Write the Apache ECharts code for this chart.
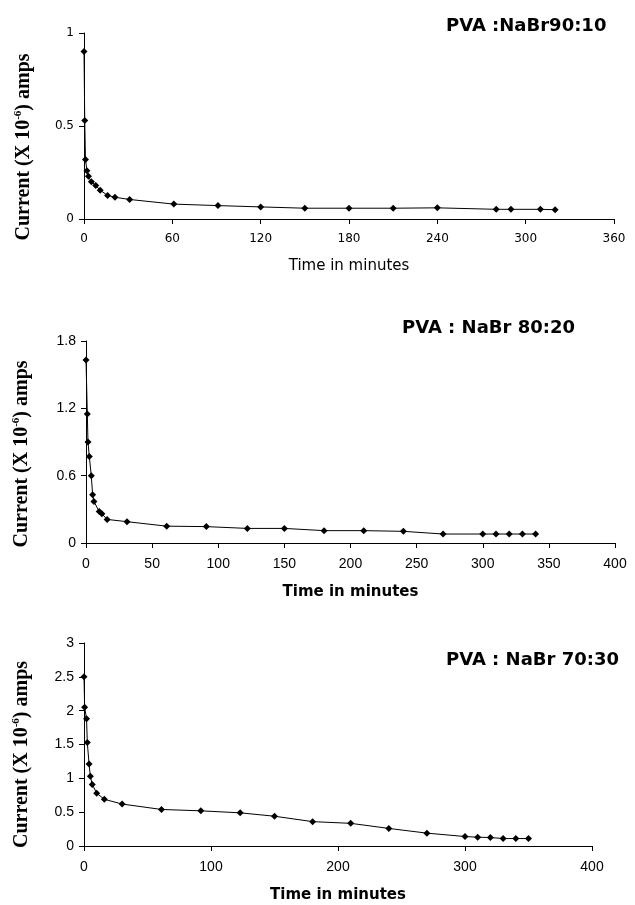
<!DOCTYPE html>
<html>
<head>
<meta charset="utf-8">
<script src="https://cdn.jsdelivr.net/npm/echarts@6/dist/echarts.min.js"></script>
<style>
  html, body { margin: 0; padding: 0; background: #fff; }
  #chart { width: 635px; height: 905px; }
</style>
</head>
<body>
<div id="chart"></div>
<script>
// PVA : NaBr 90:10
const time1 = [0, 0.5, 1, 2, 3, 5, 8, 11, 16, 21, 31, 61, 91, 120, 150, 180, 210, 240, 280, 290, 310, 320]
const current1 = [0.90, 0.53, 0.32, 0.26, 0.23, 0.20, 0.18, 0.155, 0.127, 0.117, 0.105, 0.08, 0.072, 0.065, 0.058, 0.058, 0.058, 0.06, 0.052, 0.052, 0.052, 0.05]

// PVA : NaBr 80:20
const time2 = [0, 1, 1.5, 2.5, 4, 5, 6, 10, 12, 16, 31, 61, 91, 122, 150, 180, 210, 240, 270, 300, 310, 320, 330, 340]
const current2 = [1.63, 1.15, 0.90, 0.77, 0.60, 0.43, 0.37, 0.28, 0.26, 0.21, 0.19, 0.15, 0.146, 0.13, 0.13, 0.11, 0.11, 0.104, 0.08, 0.08, 0.08, 0.08, 0.08, 0.08]

// PVA : NaBr 70:30
const time3 = [0, 0.5, 2, 2.6, 4, 5, 6.5, 10, 16, 30, 61, 92, 123, 150, 180, 210, 240, 270, 300, 310, 320, 330, 340, 350]
const current3 = [2.50, 2.05, 1.88, 1.53, 1.21, 1.03, 0.91, 0.78, 0.69, 0.62, 0.54, 0.52, 0.49, 0.44, 0.36, 0.335, 0.26, 0.19, 0.14, 0.13, 0.125, 0.11, 0.11, 0.11]

const titles = ['PVA :NaBr90:10', 'PVA : NaBr 80:20', 'PVA : NaBr 70:30']
const yName = 'Current (X 10{sup|-6}) amps'
const xName = 'Time in minutes'

const chart = echarts.init(document.getElementById('chart'))

const toPairs = (xs, ys) => xs.map((x, i) => [x, ys[i]])

const axisLine = { show: true, onZero: false, lineStyle: { color: '#000', width: 1 } }
const axisTick = { show: true, length: 5, lineStyle: { color: '#000' } }

const yNameStyle = (shift) => ({
  fontFamily: 'Liberation Serif',
  fontSize: 20,
  fontWeight: 'bold',
  color: '#000',
  padding: [0, shift, 0, 0],
  rich: {
    sup: {
      fontFamily: 'Liberation Serif',
      fontSize: 11,
      fontWeight: 'bold',
      color: '#000',
      verticalAlign: 'top',
      padding: [0, 0, 10, 0]
    }
  }
})

const makeX = (idx, max, interval, labelFont, labelSize, nameBold, nameSize) => ({
  type: 'value',
  gridIndex: idx,
  min: 0,
  max: max,
  interval: interval,
  axisLine,
  axisTick,
  splitLine: { show: false },
  axisLabel: { color: '#000', fontFamily: labelFont, fontSize: labelSize, margin: 14 },
  name: xName,
  nameLocation: 'middle',
  nameGap: idx === 0 ? 40 : 42,
  nameTextStyle: {
    color: '#000',
    fontFamily: 'DejaVu Sans',
    fontWeight: nameBold ? 'bold' : 'normal',
    fontSize: nameSize
  }
})

const makeY = (idx, max, interval, labelFont, labelSize, gap, shift) => ({
  type: 'value',
  gridIndex: idx,
  min: 0,
  max: max,
  interval: interval,
  axisLine,
  axisTick,
  splitLine: { show: false },
  axisLabel: { color: '#000', fontFamily: labelFont, fontSize: labelSize, margin: 10 },
  name: yName,
  nameLocation: 'middle',
  nameGap: gap,
  nameTextStyle: yNameStyle(shift)
})

const makeSeries = (idx, data) => ({
  type: 'line',
  xAxisIndex: idx,
  yAxisIndex: idx,
  data: data,
  symbol: 'diamond',
  symbolSize: 7,
  showSymbol: true,
  lineStyle: { color: '#000', width: 1 },
  itemStyle: { color: '#000' },
  animation: false
})

const titleStyle = { fontFamily: 'DejaVu Sans', fontWeight: 'bold', fontSize: 18, color: '#000' }

const option = {
  backgroundColor: '#fff',
  animation: false,
  title: [
    { text: titles[0], left: 441, top: 12, textStyle: titleStyle },
    { text: titles[1], left: 397, top: 314, textStyle: titleStyle },
    { text: titles[2], left: 441, top: 646, textStyle: titleStyle }
  ],
  grid: [
    { left: 84, top: 33, width: 530, height: 186 },
    { left: 86, top: 341, width: 529, height: 202 },
    { left: 84, top: 643, width: 508, height: 203 }
  ],
  xAxis: [
    makeX(0, 360, 60, 'DejaVu Sans', 12, false, 15),
    makeX(1, 400, 50, 'Liberation Sans', 14, true, 15),
    makeX(2, 400, 100, 'Liberation Sans', 14, true, 15)
  ],
  yAxis: [
    makeY(0, 1, 0.5, 'DejaVu Sans', 12, 50, 42),
    makeY(1, 1.8, 0.6, 'Liberation Sans', 14, 54, 24),
    makeY(2, 3, 0.5, 'Liberation Sans', 14, 52, 20)
  ],
  series: [
    makeSeries(0, toPairs(time1, current1)),
    makeSeries(1, toPairs(time2, current2)),
    makeSeries(2, toPairs(time3, current3))
  ]
}

chart.setOption(option)
</script>
</body>
</html>
